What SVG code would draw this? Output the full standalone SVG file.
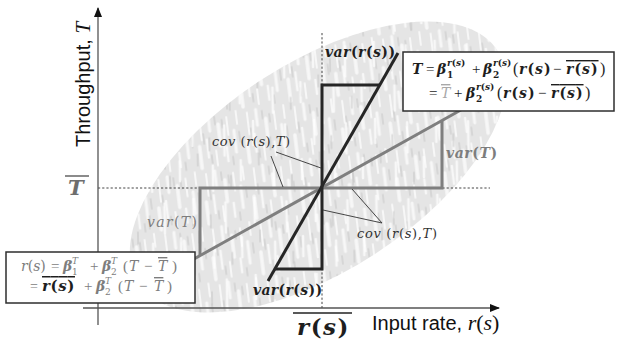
<svg xmlns="http://www.w3.org/2000/svg" width="619" height="339" viewBox="0 0 619 339">
<style>
.m{font-family:"DejaVu Serif",serif;font-style:italic}
.b{font-weight:bold}
.u{font-style:normal}
.op{font-family:"Liberation Serif",serif;font-style:normal;font-weight:normal}
.dk{fill:#1e1e1e}
.gy{fill:#7d7d7d}
.lg{fill:#a8a8a8}
.sc{font-size:9px}
.ol{text-decoration:overline}
.dash{stroke:#444;stroke-width:1;stroke-dasharray:2.2 2;fill:none}
.blk{stroke:#262626;stroke-width:3;fill:none}
.gl{stroke:#7f7f7f;stroke-width:3;fill:none}
.ld{stroke:#333;stroke-width:0.9;fill:none}
.box{fill:#fff;stroke:#2e2e2e;stroke-width:1.5}
.ax{stroke:#555;stroke-width:1.3;fill:none}
</style>
<defs>
<pattern id="tex" patternUnits="userSpaceOnUse" width="56" height="48" patternTransform="rotate(-64)">
<rect width="56" height="48" fill="#e5e5e5"/>
<g stroke="#f7f7f7" stroke-linecap="round" fill="none">
<line x1="2" y1="4" x2="24" y2="4" stroke-width="3.5"/>
<line x1="30" y1="7" x2="52" y2="7" stroke-width="2"/>
<line x1="12" y1="12" x2="30" y2="12" stroke-width="2.5"/>
<line x1="38" y1="16" x2="54" y2="16" stroke-width="3"/>
<line x1="3" y1="20" x2="18" y2="20" stroke-width="2"/>
<line x1="22" y1="25" x2="44" y2="25" stroke-width="3.5"/>
<line x1="6" y1="31" x2="20" y2="31" stroke-width="2.5"/>
<line x1="32" y1="34" x2="50" y2="34" stroke-width="2"/>
<line x1="14" y1="40" x2="36" y2="40" stroke-width="3"/>
<line x1="42" y1="44" x2="55" y2="44" stroke-width="2"/>
</g>
<g stroke="#d2d2d2" stroke-linecap="round" fill="none" stroke-width="1.6">
<line x1="26" y1="9" x2="36" y2="9"/>
<line x1="6" y1="15" x2="14" y2="15"/>
<line x1="44" y1="22" x2="52" y2="22"/>
<line x1="2" y1="36" x2="10" y2="36"/>
<line x1="24" y1="45" x2="34" y2="45"/>
<line x1="40" y1="29" x2="48" y2="29"/>
</g>
</pattern>
<pattern id="tex2" patternUnits="userSpaceOnUse" width="77" height="61" patternTransform="rotate(-58)">
<g stroke="#ffffff" stroke-linecap="round" fill="none" stroke-width="2.5">
<line x1="5" y1="9" x2="30" y2="9"/>
<line x1="40" y1="21" x2="70" y2="21"/>
<line x1="15" y1="37" x2="35" y2="37"/>
<line x1="50" y1="50" x2="74" y2="50"/>
</g>
<g stroke="#c8c8c8" stroke-linecap="round" fill="none" stroke-width="1.3">
<line x1="45" y1="6" x2="58" y2="6"/>
<line x1="8" y1="27" x2="20" y2="27"/>
<line x1="30" y1="55" x2="42" y2="55"/>
</g>
</pattern>
<marker id="ah" markerWidth="10" markerHeight="8" refX="9" refY="4" orient="auto" markerUnits="userSpaceOnUse">
<path d="M0,0 L10,4 L0,8 z" fill="#111"/>
</marker>
</defs>
<rect width="619" height="339" fill="#fff"/>

<g id="cloud">
<ellipse cx="318" cy="167" rx="214" ry="104" transform="rotate(-33 318 167)" fill="url(#tex)"/>
<ellipse cx="318" cy="167" rx="214" ry="104" transform="rotate(-33 318 167)" fill="url(#tex2)" opacity="0.7"/>
</g>

<g id="connectors">
<line class="dash" x1="98" y1="188" x2="490" y2="188"/>
<line class="dash" x1="322" y1="33" x2="322" y2="308"/>
<polyline class="gl" points="442,121 442,188 200,188 200,256"/>
<line class="gl" x1="185" y1="264" x2="468" y2="106"/>
<polyline class="blk" points="380,85 322,85 322,269 275,269"/>
<line class="blk" x1="268" y1="281" x2="398" y2="53"/>
<line class="ld" x1="276" y1="152" x2="321" y2="168"/>
<line class="ld" x1="271" y1="156" x2="283" y2="187"/>
<line class="ld" x1="382" y1="223" x2="323" y2="210"/>
<line class="ld" x1="382" y1="223" x2="352" y2="189"/>
<line class="ax" x1="98" y1="325" x2="98" y2="8" marker-end="url(#ah)"/>
<line class="ax" x1="83" y1="308" x2="499" y2="308" marker-end="url(#ah)"/>
</g>

<g id="labels">
<text class="m b dk" x="325" y="57" font-size="14" textLength="70">var<tspan class="u">(</tspan>r<tspan class="u">(</tspan>s<tspan class="u">))</tspan></text>
<text class="m b dk" x="253" y="295" font-size="14" textLength="69">var<tspan class="u">(</tspan>r<tspan class="u">(</tspan>s<tspan class="u">))</tspan></text>
<text class="m gy b" x="446" y="158" font-size="14" textLength="51">var<tspan class="u">(</tspan>T<tspan class="u">)</tspan></text>
<text class="m gy" x="147" y="227" font-size="14" textLength="50">var<tspan class="u">(</tspan>T<tspan class="u">)</tspan></text>
<text class="m" fill="#333" x="212" y="146" font-size="13" textLength="78">cov <tspan class="u">(</tspan>r<tspan class="u">(</tspan>s<tspan class="u">),</tspan>T<tspan class="u">)</tspan></text>
<text class="m" fill="#333" x="357" y="238" font-size="13" textLength="80">cov <tspan class="u">(</tspan>r<tspan class="u">(</tspan>s<tspan class="u">),</tspan>T<tspan class="u">)</tspan></text>
<text x="90" y="147" transform="rotate(-90 90 147)" font-family="Liberation Sans, Arial, sans-serif" font-size="20" fill="#111">Throughput, <tspan font-family="Liberation Serif, serif" font-style="italic" font-size="21">T</tspan></text>
<text x="372" y="330" font-family="Liberation Sans, Arial, sans-serif" font-size="20" fill="#111">Input rate, <tspan font-family="Liberation Serif, serif" font-size="22"><tspan font-style="italic">r</tspan>(<tspan font-style="italic">s</tspan>)</tspan></text>
<text class="m b" fill="#6e6e6e" x="68" y="195" font-size="21">T</text>
<line x1="65" y1="176" x2="89" y2="176" stroke="#6e6e6e" stroke-width="1.6"/>
<text class="m b dk" x="297" y="335" font-size="23" letter-spacing="1.5">r<tspan class="u">(</tspan>s<tspan class="u">)</tspan></text>
<line x1="293" y1="313" x2="352" y2="313" stroke="#222" stroke-width="1.6"/>
</g>

<g id="eq-T">
<rect class="box" x="403" y="52" width="211" height="59"/>
<text class="m b dk" font-size="14"><tspan x="412" y="74">T</tspan><tspan class="op" font-size="15" x="426" y="74">=</tspan><tspan x="437" y="74">β</tspan><tspan class="sc u" x="447" y="78">1</tspan><tspan class="sc" x="447" y="66">r<tspan class="u">(</tspan>s<tspan class="u">)</tspan></tspan><tspan class="op" font-size="15" x="472" y="74">+</tspan><tspan x="483" y="74">β</tspan><tspan class="sc u" x="493" y="78">2</tspan><tspan class="sc" x="493" y="66">r<tspan class="u">(</tspan>s<tspan class="u">)</tspan></tspan><tspan class="op" font-size="16" x="513" y="74">(</tspan><tspan x="519" y="74" letter-spacing="1">r<tspan class="u">(</tspan>s<tspan class="u">)</tspan></tspan><tspan class="op" font-size="15" x="553" y="74">−</tspan><tspan class="ol" x="566" y="74" letter-spacing="1">r<tspan class="u">(</tspan>s<tspan class="u">)</tspan></tspan><tspan class="op" font-size="16" x="600" y="74">)</tspan></text>
<text class="m b dk" font-size="14"><tspan class="op" font-size="15" x="429" y="98">=</tspan><tspan class="lg ol" font-weight="normal" x="441" y="98">T</tspan><tspan class="op" font-size="15" x="454" y="98">+</tspan><tspan x="466" y="98">β</tspan><tspan class="sc u" x="476" y="102">2</tspan><tspan class="sc" x="476" y="90">r<tspan class="u">(</tspan>s<tspan class="u">)</tspan></tspan><tspan class="op" font-size="16" x="497" y="98">(</tspan><tspan x="503" y="98" letter-spacing="1">r<tspan class="u">(</tspan>s<tspan class="u">)</tspan></tspan><tspan class="op" font-size="15" x="538" y="98">−</tspan><tspan class="ol" x="551" y="98" letter-spacing="1">r<tspan class="u">(</tspan>s<tspan class="u">)</tspan></tspan><tspan class="op" font-size="16" x="585" y="98">)</tspan></text>
</g>

<g id="eq-r">
<rect class="box" x="6" y="252" width="189" height="51"/>
<text class="m gy" font-size="14"><tspan x="21" y="271">r<tspan class="u">(</tspan>s<tspan class="u">)</tspan></tspan><tspan class="op" x="51" y="271" font-size="15">=</tspan><tspan class="b" x="63" y="271">β</tspan><tspan class="sc u" x="72" y="275">1</tspan><tspan class="sc" x="72" y="264">T</tspan><tspan class="op" font-size="15" x="90" y="271">+</tspan><tspan class="b" x="102" y="271">β</tspan><tspan class="sc u" x="111" y="275">2</tspan><tspan class="sc" x="111" y="264">T</tspan><tspan class="op" font-size="15" x="123" y="271">(</tspan><tspan x="129" y="271">T</tspan><tspan class="op" font-size="15" x="144" y="271">−</tspan><tspan class="ol" x="158" y="271">T</tspan><tspan class="op" font-size="15" x="172" y="271">)</tspan></text>
<text class="m gy" font-size="14"><tspan class="op" x="30" y="291" font-size="14">=</tspan><tspan class="b dk ol" x="42" y="291" font-size="15" letter-spacing="0.6">r<tspan class="u">(</tspan>s<tspan class="u">)</tspan></tspan><tspan class="op" font-size="15" x="84" y="291">+</tspan><tspan class="b" x="96" y="291">β</tspan><tspan class="sc u" x="105" y="295">2</tspan><tspan class="sc" x="105" y="284">T</tspan><tspan class="op" font-size="15" x="118" y="291">(</tspan><tspan x="124" y="291">T</tspan><tspan class="op" font-size="15" x="139" y="291">−</tspan><tspan class="ol" x="154" y="291">T</tspan><tspan class="op" font-size="15" x="167" y="291">)</tspan></text>
</g>
</svg>
